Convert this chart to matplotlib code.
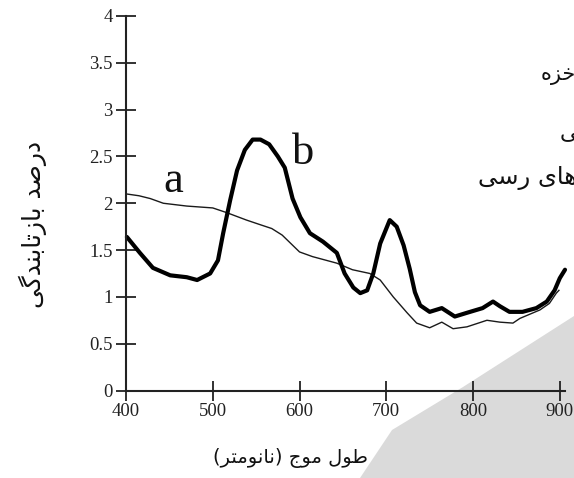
import matplotlib
matplotlib.use("Agg")
import matplotlib.pyplot as plt
from matplotlib.patches import Polygon

# ---- data ----
wl_a = [400, 415, 428, 443, 470, 500, 516, 539, 555, 568, 580, 590, 600, 615, 643, 661,
        681, 693, 708, 724, 735, 750, 764, 777, 793, 816, 831, 846, 854, 877, 888, 896, 899]
ref_a = [2.10, 2.08, 2.05, 2.00, 1.97, 1.95, 1.90, 1.82, 1.77, 1.73, 1.66, 1.57, 1.48, 1.43, 1.36, 1.29,
         1.25, 1.18, 1.00, 0.83, 0.72, 0.67, 0.73, 0.66, 0.68, 0.75, 0.73, 0.72, 0.77, 0.86, 0.93, 1.04, 1.07]

wl_b = [401, 416, 431, 451, 470, 482, 497, 506, 512, 520, 528, 537, 546, 555, 565, 575, 583, 592,
        601, 612, 627, 643, 652, 662, 670, 678, 685, 693, 704, 712, 720, 727, 733, 739, 750, 764,
        779, 793, 811, 823, 831, 842, 857, 873, 885, 894, 900, 906]
ref_b = [1.64, 1.47, 1.31, 1.23, 1.21, 1.18, 1.25, 1.39, 1.68, 2.03, 2.35, 2.57, 2.68, 2.68, 2.63, 2.50, 2.38, 2.05,
         1.85, 1.68, 1.59, 1.47, 1.25, 1.10, 1.04, 1.07, 1.25, 1.57, 1.82, 1.75, 1.55, 1.30, 1.05, 0.91, 0.84, 0.88,
         0.79, 0.83, 0.88, 0.95, 0.90, 0.84, 0.84, 0.88, 0.95, 1.07, 1.20, 1.29]

x_ticks = [400, 500, 600, 700, 800, 900]
x_tick_labels = ["400", "500", "600", "700", "800", "900"]
y_ticks = [0, 0.5, 1, 1.5, 2, 2.5, 3, 3.5, 4]
y_tick_labels = ["0", "0.5", "1", "1.5", "2", "2.5", "3", "3.5", "4"]

def vis(codes):
    return "".join(c if isinstance(c, str) else chr(c) for c in codes)

# Persian texts, shaped (presentation forms) in visual order
y_label = vis([0xFBFD, 0xFB94, 0xFEAA, 0xFEE8, 0xFE91, 0xFE8E, 0xFE97, 0xFEAF, 0xFE8E, 0xFE91,
               " ", 0xFEAA, 0xFEBB, 0xFEAD, 0xFEA9])            # درصد بازتابندگی
x_label = vis(["(", 0xFEAE, 0xFE98, 0xFEE3, 0xFEEE, 0xFEE7, 0xFE8E, 0xFEE7, ")", " ",
               0xFE9D, 0xFEEE, 0xFEE3, " ", 0xFEDD, 0xFEEE, 0xFEC3])  # طول موج (نانومتر)
legend_1 = vis([0xFEE9, 0xFEB0, 0xFEA7])                        # خزه
legend_2 = vis([0xFBFD])                                        # ی
legend_3 = vis([0xFBFD, 0xFEB3, 0xFEAD, " ", 0xFBFC, 0xFE8E, 0xFEEB])  # های رسی

W, H = 574, 478
fig = plt.figure(figsize=(W / 100, H / 100), dpi=100)
fig.patch.set_facecolor("white")

# scan shading in lower right
gray = Polygon([(574 / W, 1 - 316 / H), (463 / W, 1 - 387 / H), (392 / W, 1 - 430 / H),
                (360 / W, 1 - 478 / H), (574 / W, 0)], closed=True,
               transform=fig.transFigure, facecolor="#dadada", edgecolor="none", zorder=-5)
fig.patches.append(gray)

left, right = 126 / W, 565 / W
bottom, top = 1 - 390.5 / H, 1 - 16 / H
ax = fig.add_axes([left, bottom, right - left, top - bottom])
ax.patch.set_visible(False)
ax.set_xlim(400, 906)
ax.set_ylim(0, 4)

ax.plot(wl_a, ref_a, color="#1a1a1a", lw=1.0, solid_joinstyle="round", clip_on=False)
ax.plot(wl_b, ref_b, color="black", lw=3.0, solid_joinstyle="round",
        solid_capstyle="round", clip_on=False)

for s in ["top", "right"]:
    ax.spines[s].set_visible(False)
for s in ["left", "bottom"]:
    ax.spines[s].set_linewidth(1.5)
    ax.spines[s].set_color("#222222")

ax.set_xticks(x_ticks)
ax.set_xticklabels(x_tick_labels)
ax.set_yticks(y_ticks)
ax.set_yticklabels(y_tick_labels)
ax.tick_params(direction="inout", length=15, width=1.3, colors="#222222", labelcolor="#222222")
ax.tick_params(axis="y", pad=2)
ax.tick_params(axis="x", pad=1.5)
for lab in ax.get_xticklabels() + ax.get_yticklabels():
    lab.set_fontfamily("Liberation Serif")
    lab.set_fontsize(13.5)

ax.text(455, 2.24, "a", fontsize=32, family="Liberation Serif",
        ha="center", va="center", color="#111111")
ax.text(604, 2.54, "b", fontsize=32, family="Liberation Serif",
        ha="center", va="center", color="#111111")

fig.text(33 / W, 1 - 225 / H, y_label, rotation=90, fontsize=18, family=["DejaVu Sans"],
         ha="center", va="center", color="#111111")
fig.text(290 / W, 1 - 458 / H, x_label, fontsize=14, family=["DejaVu Sans"],
         ha="center", va="center", color="#111111")
fig.text(576 / W, 1 - 75 / H, legend_1, fontsize=15, family=["DejaVu Sans"],
         ha="right", va="center", color="#111111")
fig.text(578 / W, 1 - 133 / H, legend_2, fontsize=16, family=["DejaVu Sans"],
         ha="right", va="center", color="#111111")
fig.text(577 / W, 1 - 178 / H, legend_3, fontsize=17.5, family=["DejaVu Sans"],
         ha="right", va="center", color="#111111")

fig.savefig("out.png", dpi=100)
